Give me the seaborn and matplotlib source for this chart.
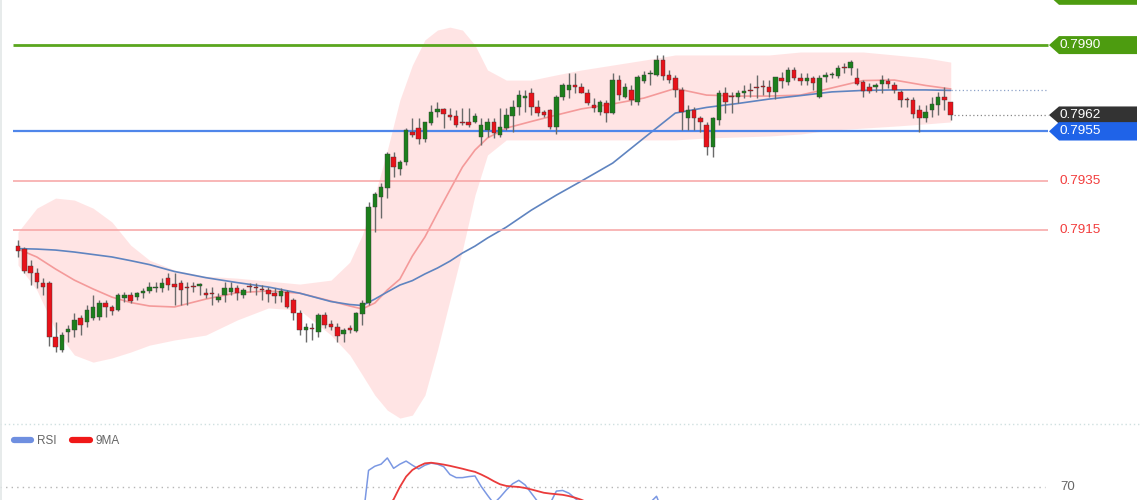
import numpy as np
import pandas as pd
import matplotlib
matplotlib.use("Agg")
import matplotlib.pyplot as plt
import seaborn as sns
from matplotlib.patches import Polygon
from matplotlib.lines import Line2D

# ─── Candles ──────────────────────────────────────────────────────────────────
opens = [
    0.79084, 0.79072, 0.79003, 0.78973, 0.78935, 0.78933, 0.78715, 0.78662, 0.78735, 0.78743,
    0.78792, 0.78777, 0.78792, 0.78797, 0.78852, 0.78837, 0.78824, 0.78873, 0.78885, 0.78876,
    0.78895, 0.78903, 0.78912, 0.78915, 0.78953, 0.78930, 0.78933, 0.78916, 0.78920, 0.78924,
    0.78895, 0.78891, 0.78865, 0.78885, 0.78897, 0.78912, 0.78885, 0.78920, 0.78914, 0.78906,
    0.78906, 0.78895, 0.78881, 0.78899, 0.78865, 0.78811, 0.78743, 0.78752, 0.78736, 0.78804,
    0.78768, 0.78755, 0.78727, 0.78752, 0.78739, 0.78808, 0.78852, 0.79244, 0.79284, 0.79319,
    0.79447, 0.79397, 0.79427, 0.79546, 0.79562, 0.79517, 0.79582, 0.79627, 0.79640, 0.79616,
    0.79613, 0.79585, 0.79586, 0.79586, 0.79527, 0.79555, 0.79586, 0.79535, 0.79563, 0.79614,
    0.79647, 0.79687, 0.79707, 0.79647, 0.79629, 0.79636, 0.79567, 0.79688, 0.79718, 0.79738,
    0.79729, 0.79707, 0.79657, 0.79629, 0.79666, 0.79625, 0.79758, 0.79690, 0.79718, 0.79670,
    0.79755, 0.79783, 0.79779, 0.79839, 0.79779, 0.79768, 0.79718, 0.79606, 0.79636, 0.79603,
    0.79575, 0.79487, 0.79596, 0.79705, 0.79689, 0.79689, 0.79707, 0.79714, 0.79728, 0.79731,
    0.79729, 0.79710, 0.79765, 0.79750, 0.79798, 0.79766, 0.79754, 0.79766, 0.79690, 0.79772,
    0.79779, 0.79776, 0.79809, 0.79806, 0.79768, 0.79749, 0.79731, 0.79729, 0.79741, 0.79754,
    0.79738, 0.79711, 0.79677, 0.79677, 0.79636, 0.79603, 0.79636, 0.79657, 0.79690, 0.79668,
]
closes = [
    0.79065, 0.78983, 0.78973, 0.78939, 0.78918, 0.78716, 0.78675, 0.78723, 0.78747, 0.78784,
    0.78763, 0.78824, 0.78837, 0.78854, 0.78835, 0.78822, 0.78885, 0.78885, 0.78862, 0.78895,
    0.78897, 0.78919, 0.78914, 0.78935, 0.78926, 0.78918, 0.78906, 0.78914, 0.78919, 0.78926,
    0.78885, 0.78889, 0.78876, 0.78912, 0.78914, 0.78895, 0.78906, 0.78919, 0.78912, 0.78904,
    0.78889, 0.78881, 0.78903, 0.78835, 0.78813, 0.78743, 0.78757, 0.78747, 0.78804, 0.78763,
    0.78754, 0.78719, 0.78743, 0.78743, 0.78812, 0.78855, 0.79244, 0.79294, 0.79325, 0.79457,
    0.79406, 0.79427, 0.79555, 0.79535, 0.79517, 0.79586, 0.79629, 0.79640, 0.79619, 0.79607,
    0.79575, 0.79584, 0.79575, 0.79613, 0.79575, 0.79586, 0.79543, 0.79567, 0.79616, 0.79649,
    0.79697, 0.79689, 0.79650, 0.79625, 0.79616, 0.79567, 0.79688, 0.79738, 0.79738, 0.79729,
    0.79707, 0.79666, 0.79643, 0.79670, 0.79625, 0.79758, 0.79697, 0.79729, 0.79677, 0.79769,
    0.79779, 0.79785, 0.79839, 0.79776, 0.79758, 0.79718, 0.79629, 0.79636, 0.79603, 0.79589,
    0.79487, 0.79604, 0.79705, 0.79667, 0.79688, 0.79707, 0.79708, 0.79712, 0.79727, 0.79730,
    0.79710, 0.79770, 0.79754, 0.79799, 0.79766, 0.79754, 0.79766, 0.79746, 0.79766, 0.79774,
    0.79781, 0.79808, 0.79808, 0.79832, 0.79741, 0.79714, 0.79714, 0.79738, 0.79758, 0.79742,
    0.79718, 0.79677, 0.79676, 0.79619, 0.79605, 0.79629, 0.79660, 0.79690, 0.79677, 0.79616,
]
highs = [
    0.79109, 0.79081, 0.79027, 0.78994, 0.78953, 0.78942, 0.78776, 0.78736, 0.78764, 0.78811,
    0.78804, 0.78845, 0.78885, 0.78865, 0.78865, 0.78845, 0.78892, 0.78899, 0.78899, 0.78899,
    0.78912, 0.78939, 0.78939, 0.78953, 0.78973, 0.78973, 0.78946, 0.78939, 0.78939, 0.78933,
    0.78912, 0.78919, 0.78892, 0.78939, 0.78939, 0.78926, 0.78912, 0.78933, 0.78933, 0.78926,
    0.78919, 0.78912, 0.78912, 0.78906, 0.78872, 0.78824, 0.78770, 0.78770, 0.78811, 0.78817,
    0.78784, 0.78770, 0.78750, 0.78763, 0.78817, 0.78865, 0.79264, 0.79305, 0.79339, 0.79467,
    0.79467, 0.79433, 0.79562, 0.79603, 0.79603, 0.79589, 0.79657, 0.79670, 0.79643, 0.79643,
    0.79636, 0.79643, 0.79643, 0.79623, 0.79603, 0.79603, 0.79603, 0.79643, 0.79643, 0.79677,
    0.79718, 0.79718, 0.79724, 0.79677, 0.79636, 0.79639, 0.79697, 0.79745, 0.79788, 0.79788,
    0.79745, 0.79720, 0.79684, 0.79677, 0.79677, 0.79785, 0.79779, 0.79745, 0.79738, 0.79779,
    0.79796, 0.79799, 0.79860, 0.79860, 0.79799, 0.79779, 0.79731, 0.79657, 0.79650, 0.79612,
    0.79589, 0.79609, 0.79718, 0.79731, 0.79710, 0.79718, 0.79738, 0.79745, 0.79779, 0.79758,
    0.79758, 0.79772, 0.79792, 0.79812, 0.79811, 0.79785, 0.79785, 0.79774, 0.79779, 0.79792,
    0.79792, 0.79819, 0.79826, 0.79839, 0.79806, 0.79758, 0.79745, 0.79745, 0.79779, 0.79765,
    0.79751, 0.79718, 0.79690, 0.79690, 0.79657, 0.79657, 0.79690, 0.79711, 0.79731, 0.79670,
]
lows = [
    0.79041, 0.78973, 0.78926, 0.78912, 0.78885, 0.78678, 0.78654, 0.78654, 0.78696, 0.78716,
    0.78723, 0.78757, 0.78784, 0.78784, 0.78797, 0.78804, 0.78822, 0.78858, 0.78852, 0.78865,
    0.78872, 0.78892, 0.78899, 0.78899, 0.78906, 0.78845, 0.78845, 0.78845, 0.78899, 0.78885,
    0.78872, 0.78845, 0.78858, 0.78858, 0.78885, 0.78865, 0.78872, 0.78899, 0.78885, 0.78865,
    0.78858, 0.78852, 0.78858, 0.78831, 0.78784, 0.78723, 0.78696, 0.78703, 0.78716, 0.78750,
    0.78743, 0.78696, 0.78696, 0.78730, 0.78734, 0.78763, 0.78845, 0.79142, 0.79197, 0.79278,
    0.79366, 0.79372, 0.79413, 0.79528, 0.79497, 0.79508, 0.79575, 0.79609, 0.79562, 0.79596,
    0.79569, 0.79575, 0.79569, 0.79582, 0.79494, 0.79528, 0.79523, 0.79527, 0.79555, 0.79548,
    0.79616, 0.79629, 0.79616, 0.79612, 0.79609, 0.79558, 0.79539, 0.79677, 0.79684, 0.79704,
    0.79704, 0.79657, 0.79629, 0.79616, 0.79589, 0.79620, 0.79677, 0.79684, 0.79657, 0.79657,
    0.79745, 0.79738, 0.79774, 0.79758, 0.79746, 0.79689, 0.79555, 0.79555, 0.79555, 0.79548,
    0.79454, 0.79446, 0.79575, 0.79623, 0.79623, 0.79664, 0.79684, 0.79690, 0.79684, 0.79697,
    0.79690, 0.79680, 0.79724, 0.79738, 0.79758, 0.79738, 0.79738, 0.79718, 0.79684, 0.79751,
    0.79765, 0.79765, 0.79785, 0.79779, 0.79738, 0.79690, 0.79704, 0.79711, 0.79704, 0.79724,
    0.79704, 0.79650, 0.79650, 0.79603, 0.79548, 0.79589, 0.79609, 0.79616, 0.79636, 0.79596,
]

# ─── Indicators sampled at these candle indices ───────────────────────────────
ind_idx = [0, 3, 6, 9, 12, 15, 18, 21, 25, 30, 35, 40, 45, 50, 53, 55, 57, 59, 61, 63, 65,
           67, 69, 71, 73, 75, 78, 82, 86, 90, 95, 100, 105, 110, 115, 120, 125, 130, 135,
           140, 145, 149]
slow_ma = [0.79074, 0.79072, 0.79068, 0.79060, 0.79050, 0.79040, 0.79025, 0.79009, 0.78981,
           0.78956, 0.78936, 0.78918, 0.78893, 0.78859, 0.78847, 0.78843, 0.78869, 0.78898,
           0.78926, 0.78944, 0.78971, 0.78995, 0.79023, 0.79056, 0.79084, 0.79117, 0.79161,
           0.79230, 0.79291, 0.79348, 0.79421, 0.79523, 0.79624, 0.79647, 0.79663, 0.79681,
           0.79695, 0.79710, 0.79716, 0.79718, 0.79718, 0.79716]
fast_ma = [0.79072, 0.79040, 0.78991, 0.78946, 0.78910, 0.78877, 0.78855, 0.78841, 0.78837,
           0.78869, 0.78895, 0.78902, 0.78893, 0.78861, 0.78841, 0.78829, 0.78853, 0.78906,
           0.78950, 0.79044, 0.79121, 0.79218, 0.79312, 0.79405, 0.79474, 0.79523, 0.79563,
           0.79590, 0.79616, 0.79641, 0.79661, 0.79685, 0.79724, 0.79697, 0.79693, 0.79693,
           0.79697, 0.79726, 0.79756, 0.79758, 0.79736, 0.79722]
band_upper = [0.79141, 0.79238, 0.79279, 0.79271, 0.79238, 0.79182, 0.79088, 0.79027, 0.78987,
              0.78962, 0.78954, 0.78942, 0.78930, 0.78946, 0.79019, 0.79129, 0.79291, 0.79474,
              0.79677, 0.79819, 0.79921, 0.79961, 0.79973, 0.79961, 0.79900, 0.79799, 0.79758,
              0.79758, 0.79779, 0.79799, 0.79819, 0.79839, 0.79860, 0.79860, 0.79860, 0.79860,
              0.79872, 0.79872, 0.79872, 0.79860, 0.79848, 0.79831]
band_lower = [0.79007, 0.78906, 0.78743, 0.78642, 0.78613, 0.78630, 0.78654, 0.78682, 0.78703,
              0.78723, 0.78784, 0.78833, 0.78824, 0.78723, 0.78642, 0.78561, 0.78479, 0.78418,
              0.78386, 0.78398, 0.78479, 0.78662, 0.78865, 0.79068, 0.79291, 0.79454, 0.79515,
              0.79515, 0.79515, 0.79515, 0.79515, 0.79515, 0.79515, 0.79523, 0.79527, 0.79531,
              0.79539, 0.79555, 0.79563, 0.79571, 0.79580, 0.79588]

# ─── RSI panel (only the top is visible) ─────────────────────────────────────
rsi_idx = list(range(50, 111))
rsi = [40, 38, 40, 39, 45, 52, 78, 80, 81, 84, 79, 81, 82.5, 80.5, 78.7, 80.5, 81.5, 81,
       79.8, 76, 74.5, 74.5, 75, 75.3, 70.2, 66, 62, 65, 68.5, 71.5, 73.2, 71, 67, 63, 60,
       62, 68, 68.3, 67, 64.5, 62, 58, 55, 57, 54, 60, 57, 58, 55, 61, 62, 62.5, 65.5, 58,
       56, 52, 46, 48, 45, 44, 40]
rsi_ma9 = [45, 44, 43, 42, 42, 43, 47, 51, 55.5, 60, 64, 70, 75, 78.2, 80, 81.4, 81.7, 81.3,
           80.8, 80.2, 79.5, 78.8, 78, 77.3, 76, 74.5, 72.8, 71.3, 70.5, 70.2, 70, 69.5, 68.8,
           68, 67.2, 66.8, 66.5, 66.2, 65.6, 64.8, 63.8, 62.5, 61, 60, 59, 58.5, 58.5, 58, 58,
           58, 58.5, 59, 59.5, 59, 58, 57, 55, 54, 52, 51, 50]

# ─── Levels ───────────────────────────────────────────────────────────────────
resistance = 0.7990
target = 0.8010
pivot = 0.7955
supports = [0.7935, 0.7915]
rsi_level = 70

# ─── Layout helpers (pixel geometry of the reference) ────────────────────────
W, H = 1140, 500
PX0, DX = 18, 6.26          # x of first candle, candle spacing in px
def ix(px):
    return (px - PX0) / DX
XLIM = (ix(0), ix(W))
YLIM = (0.78362, 0.80083)
PPX = (YLIM[1] - YLIM[0]) / 424   # price per pixel

GREEN, RED = "#1c7f1c", "#e8121a"

df = pd.DataFrame({"open": opens, "high": highs, "low": lows, "close": closes})
df["idx"] = np.arange(len(df))
df["up"] = df["close"] >= df["open"]
ind = pd.DataFrame({"idx": ind_idx, "slow": slow_ma, "fast": fast_ma,
                    "upper": band_upper, "lower": band_lower})

sns.set_theme(style="white")
plt.rcParams["font.family"] = ["Liberation Sans", "DejaVu Sans"]

fig = plt.figure(figsize=(W / 100, H / 100), dpi=100)
ax = fig.add_axes([0, 76 / H, 1, 424 / H])
rx = fig.add_axes([0, 0, 1, 76 / H])

# Bollinger-style band + moving averages
ax.fill_between(ind["idx"], ind["lower"], ind["upper"], color="#ffdcdc", alpha=0.75, lw=0, zorder=1)
sns.lineplot(data=ind, x="idx", y="fast", ax=ax, color="#f49a9a", lw=1.2, zorder=2)
sns.lineplot(data=ind, x="idx", y="slow", ax=ax, color="#5f84c0", lw=1.2, zorder=2)

# level lines
x_lo, x_hi = ix(13), ix(1048)
ax.hlines(resistance, x_lo, x_hi, color="#5aa61e", lw=2, zorder=2)
ax.hlines(pivot, x_lo, x_hi, color="#4f86ea", lw=1.6, zorder=2)
for s in supports:
    ax.hlines(s, x_lo, x_hi, color="#f7a3a3", lw=1.1, zorder=2)
    ax.text(ix(1060), s, f"{s:.4f}", color="#f23d3d", fontsize=9.7, va="center", ha="left")

last = len(df) - 1
ax.hlines(closes[-1], last + 0.6, x_hi, color="#888888", lw=0.9, ls=(0, (1, 2)), zorder=2)
ax.hlines(slow_ma[-1], last, x_hi, color="#8ea3c9", lw=0.9, ls=(0, (1, 2)), zorder=2)

# candles
ax.vlines(df["idx"], df["low"], df["high"], color="#6a6a6a", lw=1, zorder=3)
body = (df["close"] - df["open"]).abs().clip(lower=PPX * 1.2)
ax.bar(df["idx"], body, bottom=df[["open", "close"]].min(axis=1), width=0.72,
       color=np.where(df["up"], GREEN, RED), edgecolor="#3a3a3a", lw=0.3, zorder=4)

# price tags on the right
def tag(price, text, face, half=9):
    h = half * PPX
    xs = [ix(1049), ix(1059), ix(1137), ix(1137), ix(1059)]
    ys = [price, price + h, price + h, price - h, price - h]
    ax.add_patch(Polygon(np.c_[xs, ys], closed=True, fc=face, ec="none", zorder=6))
    if text:
        ax.text(ix(1060), price, text, color="white", fontsize=9.7, va="center", ha="left", zorder=7)

# target tag sits above the visible range, only its lower edge shows
tag(target, None, "#4d9c10")
tag(resistance, f"{resistance:.4f}", "#4d9c10")
tag(closes[-1], f"{closes[-1]:.4f}", "#333333", half=8.6)
tag(pivot, f"{pivot:.4f}", "#1f63e8", half=9.2)

# forecast arrow
ax.annotate("", xy=(ix(1045), YLIM[1] + 2 * PPX), xytext=(last + 0.7, closes[-1]),
            arrowprops=dict(arrowstyle="-|>,head_length=1.1,head_width=0.45",
                            color="#2f63a6", lw=3.6, mutation_scale=14,
                            shrinkA=0, shrinkB=0), zorder=8)

ax.set_xlim(*XLIM)
ax.set_ylim(*YLIM)

# RSI panel
rs = pd.DataFrame({"idx": rsi_idx, "rsi": rsi, "ma9": rsi_ma9})
rx.hlines(rsi_level, XLIM[0], ix(1045), color="#b5b5b5", lw=1, ls=(0, (1, 3)))
sns.lineplot(data=rs, x="idx", y="rsi", ax=rx, color="#7b98e3", lw=1.1)
sns.lineplot(data=rs, x="idx", y="ma9", ax=rx, color="#ea3b3b", lw=1.3)
rx.text(ix(1060), rsi_level, str(rsi_level), color="#666666", fontsize=9.5, va="center", ha="left")
rx.set_xlim(*XLIM)
rx.set_ylim(63.7, 100.4)
rx.legend(handles=[Line2D([], [], color="#6f8fe0", lw=4.5), Line2D([], [], color="#f01818", lw=4.5)],
          labels=["RSI", "9MA"], loc="upper left", bbox_to_anchor=(0.012, 0.86), ncol=2,
          frameon=False, fontsize=8.5, labelcolor="#666666", handlelength=1.5,
          handletextpad=0.5, columnspacing=1.3, borderaxespad=0, borderpad=0)

for a in (ax, rx):
    a.set_xticks([])
    a.set_yticks([])
    a.set_xlabel("")
    a.set_ylabel("")
    for sp in a.spines.values():
        sp.set_visible(False)

# panel separators
fig.add_artist(Line2D([0, 1], [76 / H, 76 / H], color="#cfe0e0", lw=1, ls=(0, (1, 2))))
fig.add_artist(Line2D([0.0006, 0.0006], [0, 1], color="#e3e8e8", lw=1.2))

fig.savefig("out.png", dpi=100)
